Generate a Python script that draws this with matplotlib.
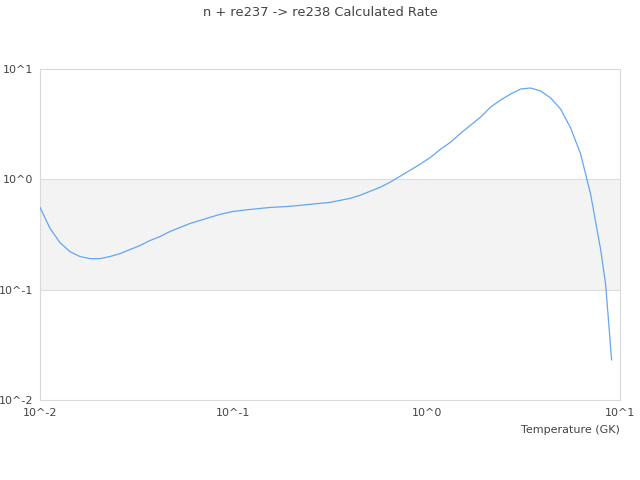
import numpy as np
import matplotlib
matplotlib.use("Agg")
import matplotlib.pyplot as plt
from matplotlib.ticker import FixedLocator, FuncFormatter

# temperature (GK) and rate
temperature = [0.01, 0.01127, 0.01268, 0.01429, 0.0161, 0.01815, 0.0204, 0.023,
               0.0259, 0.0292, 0.0329, 0.0371, 0.0418, 0.0471, 0.053, 0.0597,
               0.0673, 0.0757, 0.0853, 0.1, 0.122, 0.155, 0.196, 0.249, 0.316,
               0.402, 0.452, 0.509, 0.574, 0.646, 0.728, 0.82, 0.924, 1.049,
               1.18, 1.33, 1.5, 1.69, 1.9, 2.14, 2.41, 2.72, 3.06, 3.45, 3.89,
               4.38, 4.93, 5.56, 6.26, 7.05, 7.94, 8.43, 9.05]
rate = [0.557, 0.359, 0.267, 0.221, 0.1995, 0.191, 0.191, 0.1995,
        0.212, 0.231, 0.251, 0.279, 0.303, 0.337, 0.366, 0.398,
        0.424, 0.452, 0.481, 0.512, 0.533, 0.556, 0.569, 0.593, 0.618,
        0.672, 0.716, 0.778, 0.846, 0.94, 1.065, 1.207, 1.37, 1.585,
        1.875, 2.17, 2.62, 3.1, 3.66, 4.51, 5.23, 5.93, 6.58, 6.72, 6.31,
        5.45, 4.33, 2.91, 1.69, 0.73, 0.231, 0.111, 0.0231]

decades = [0.01, 0.1, 1, 10]
title = "n + re237 -> re238 Calculated Rate"
xlabel = "Temperature (GK)"

text_color = "#444444"
frame_color = "#d9d9d9"

fig = plt.figure(figsize=(6.4, 4.8), dpi=100)
ax = fig.add_axes([0.0625, 0.1667, 0.90625, 0.6896])

ax.axhspan(0.1, 1, color="#f3f3f3", zorder=0, lw=0)
for yv in [0.1, 1]:
    ax.axhline(yv, color="#dddddd", lw=0.8, zorder=1)

ax.plot(temperature, rate, color="#62a6f2", lw=0.9, zorder=3)

ax.set_xscale("log")
ax.set_yscale("log")
ax.set_xlim(0.01, 10)
ax.set_ylim(0.01, 10)

fmt = FuncFormatter(lambda v, p: "10^%d" % round(np.log10(v)))
for axis in (ax.xaxis, ax.yaxis):
    axis.set_major_locator(FixedLocator(decades))
    axis.set_major_formatter(fmt)
    axis.set_minor_locator(FixedLocator([]))

ax.tick_params(axis="both", length=0, labelsize=8, labelcolor=text_color)
ax.tick_params(axis="x", pad=6)
ax.tick_params(axis="y", pad=5)

for s in ax.spines.values():
    s.set_color(frame_color)
    s.set_linewidth(0.8)

ax.set_xlabel(xlabel, fontsize=8, color=text_color, ha="right", x=1.0, labelpad=5)
fig.text(0.5, 0.988, title, ha="center", va="top", fontsize=9.4, color=text_color)

fig.savefig("out.png", dpi=100)
